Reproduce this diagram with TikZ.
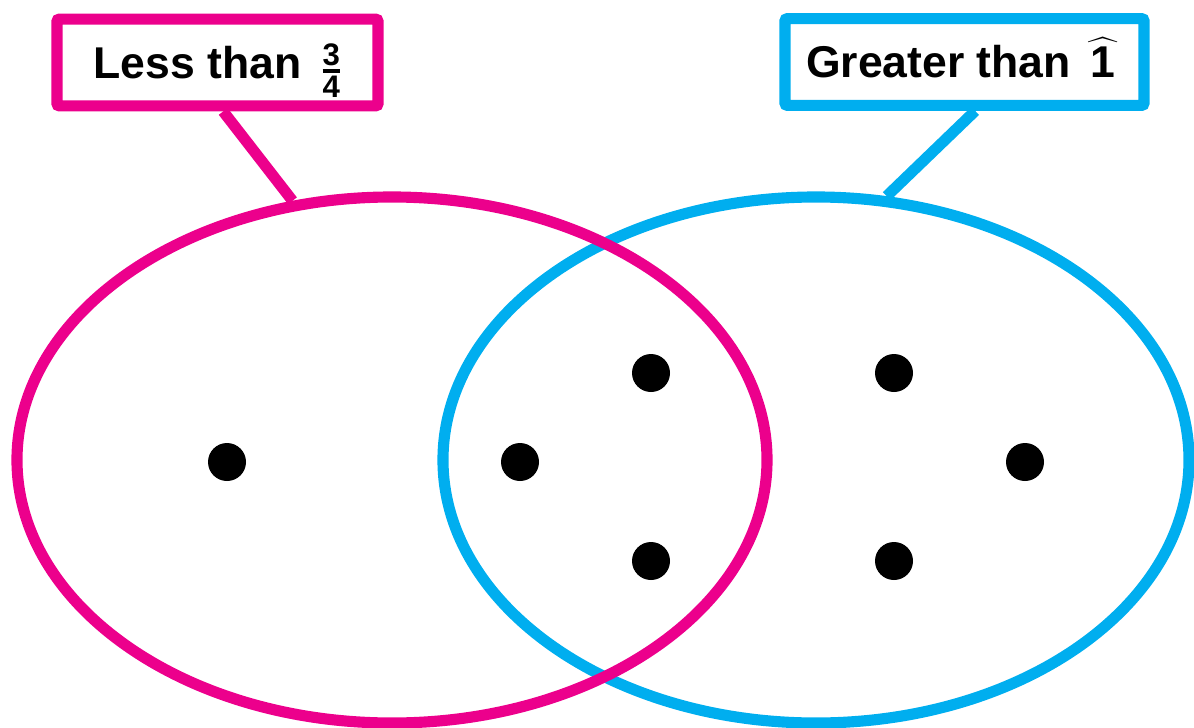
\documentclass[tikz,border=0pt]{standalone}
\usepackage{amsmath}
\usepackage{fontspec}
\setmainfont{Liberation Sans}
\usetikzlibrary{shapes.geometric}
\definecolor{setpink}{HTML}{EC008C}
\definecolor{setblue}{HTML}{00AEEF}
\begin{document}
\begin{tikzpicture}[x=0.03cm,y=-0.03cm]
\tikzstyle{setring}=[ellipse,line width=9.5pt,inner sep=0pt]
\tikzstyle{labelbox}=[rectangle,line width=9.5pt,rounded corners=2pt,fill=white,
inner sep=0pt,minimum height=2.6cm,font=\fontsize{38}{42}\selectfont\bfseries]
\tikzstyle{elem}=[circle,fill=black,minimum size=1.14cm,inner sep=0pt]

\useasboundingbox (0,0) rectangle (1194,728);
\clip (0,0) rectangle (1194,728);

\node (greaterset) [setring,draw=setblue,minimum width=22.38cm,minimum height=15.78cm] at (816,460) {};
\node (lessset) [setring,draw=setpink,minimum width=22.5cm,minimum height=15.78cm] at (392,460) {};

\node (lessbox) [labelbox,draw=setpink,minimum width=9.63cm] at (217.5,62.5)
  {\raisebox{-13.5pt}[0pt][0pt]{Less than\, $\genfrac{}{}{3pt}{1}{\text{3}}{\text{4}}$}};
\node (greaterbox) [labelbox,draw=setblue,minimum width=10.77cm] at (964.5,62)
  {\raisebox{-13.5pt}[0pt][0pt]{Greater than $\widehat{\text{\,1\,}}$}};

\draw [setpink,line width=9.5pt] ([xshift=0.17cm]lessbox.south) -- (lessset.111.4);
\draw [setblue,line width=9.5pt] ([xshift=0.32cm]greaterbox.south) -- (greaterset.75.4);

\node (a) [elem] at (227,462) {};
\node (b) [elem] at (520,462) {};
\node (c) [elem] at (651,373) {};
\node (d) [elem] at (651,561) {};
\node (e) [elem] at (894,373) {};
\node (f) [elem] at (894,561) {};
\node (g) [elem] at (1025,462) {};
\end{tikzpicture}
\end{document}
